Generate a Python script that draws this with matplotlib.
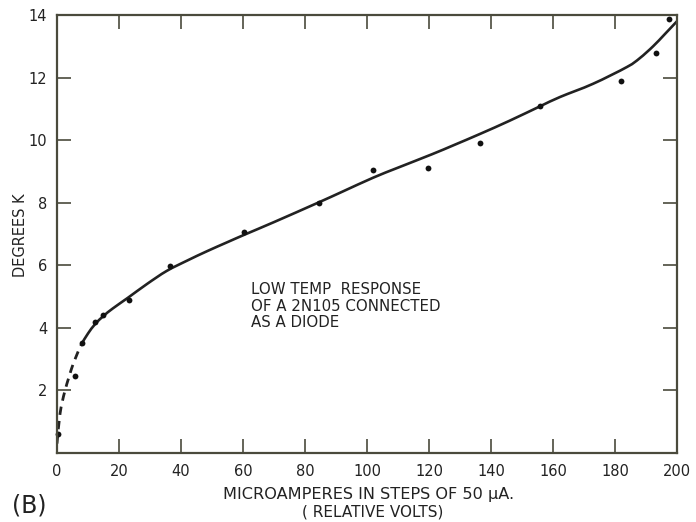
import matplotlib
matplotlib.use("Agg")
import matplotlib.pyplot as plt
from matplotlib.path import Path
from matplotlib.patches import PathPatch

# Measured points (current step, temperature in K)
pts_x = [0.3, 5.8, 8.2, 12.4, 14.8, 23.2, 36.3, 60.3, 84.5, 102.0, 119.7,
         136.5, 155.8, 182.0, 193.2, 197.5]
pts_y = [0.62, 2.45, 3.5, 4.18, 4.4, 4.88, 5.98, 7.05, 8.0, 9.05, 9.1,
         9.92, 11.1, 11.9, 12.78, 13.87]

# Extrapolated low end of the response curve (drawn dashed)
dash_x = [0.0, 1.0, 2.6, 5.3, 8.0]
dash_y = [0.3, 1.27, 2.0, 2.87, 3.5]

# Fitted response curve (solid)
curve_x = [8.0, 10.0, 12.3, 15.0, 18.0, 23.0, 29.0, 35.4, 42.0, 48.4, 55.0,
           61.0, 70.0, 84.2, 92.0, 102.0, 110.0, 121.0, 128.0, 136.5, 146.0,
           155.8, 162.3, 172.9, 183.9, 188.0, 192.3, 196.0, 200.0]
curve_y = [3.5, 3.82, 4.12, 4.38, 4.62, 4.97, 5.4, 5.82, 6.15, 6.45, 6.74,
           7.0, 7.38, 8.0, 8.35, 8.8, 9.12, 9.55, 9.84, 10.2, 10.62,
           11.08, 11.38, 11.8, 12.34, 12.62, 13.0, 13.38, 13.8]

x_ticks = [0, 20, 40, 60, 80, 100, 120, 140, 160, 180, 200]
x_labels = ["0", "20", "40", "60", "80", "100", "120", "140", "160", "180", "200"]
y_ticks = [2, 4, 6, 8, 10, 12, 14]
y_labels = ["2", "4", "6", "8", "10", "12", "14"]

ink = "#222222"
axis_col = "#4a4a3c"


def smooth_path(xs, ys):
    """Cubic Bezier path passing through the given vertices (Catmull-Rom)."""
    pts = list(zip(xs, ys))
    n = len(pts)
    verts = [pts[0]]
    codes = [Path.MOVETO]
    for i in range(n - 1):
        p0 = pts[i - 1] if i > 0 else pts[i]
        p1 = pts[i]
        p2 = pts[i + 1]
        p3 = pts[i + 2] if i + 2 < n else pts[i + 1]
        c1 = (p1[0] + (p2[0] - p0[0]) / 6.0, p1[1] + (p2[1] - p0[1]) / 6.0)
        c2 = (p2[0] - (p3[0] - p1[0]) / 6.0, p2[1] - (p3[1] - p1[1]) / 6.0)
        verts += [c1, c2, p2]
        codes += [Path.CURVE4] * 3
    return Path(verts, codes)


fig = plt.figure(figsize=(6.96, 5.22), dpi=100)
ax = fig.add_axes([0.0819, 0.1322, 0.8908, 0.8391])

ax.add_patch(PathPatch(smooth_path(dash_x, dash_y), facecolor="none",
                       edgecolor=ink, lw=2.0, ls=(0, (3.0, 2.2)),
                       capstyle="butt"))
ax.add_patch(PathPatch(smooth_path(curve_x, curve_y), facecolor="none",
                       edgecolor=ink, lw=1.9, joinstyle="round",
                       clip_on=False))
ax.plot(pts_x, pts_y, "o", color="#111111", ms=4.2, mew=0, clip_on=False)

ax.set_xlim(0, 200)
ax.set_ylim(0, 14)
ax.set_xticks(x_ticks)
ax.set_xticklabels(x_labels)
ax.set_yticks(y_ticks)
ax.set_yticklabels(y_labels)

for s in ax.spines.values():
    s.set_color(axis_col)
    s.set_linewidth(1.6)

ax.tick_params(axis="both", direction="in", length=10, width=1.2,
               colors=axis_col, labelcolor=ink, labelsize=10.5,
               top=True, right=True)
ax.tick_params(axis="x", pad=8)
ax.tick_params(axis="y", pad=7)

ax.text(62.5, 5.45, "LOW TEMP  RESPONSE\nOF A 2N105 CONNECTED\nAS A DIODE",
        fontsize=10.8, color=ink, ha="left", va="top", linespacing=1.12)

fig.text(0.030, 0.55, "DEGREES K", rotation=90, fontsize=10.5, color=ink,
         ha="center", va="center")
fig.text(0.53, 0.053, "MICROAMPERES IN STEPS OF 50 \u03bcA.", fontsize=11.6,
         color=ink, ha="center", va="center")
fig.text(0.535, 0.019, "( RELATIVE VOLTS)", fontsize=11.0, color=ink,
         ha="center", va="center")
fig.text(0.017, 0.032, "(B)", fontsize=17, color=ink, ha="left", va="center")

fig.savefig("out.png", dpi=100, facecolor="white")
